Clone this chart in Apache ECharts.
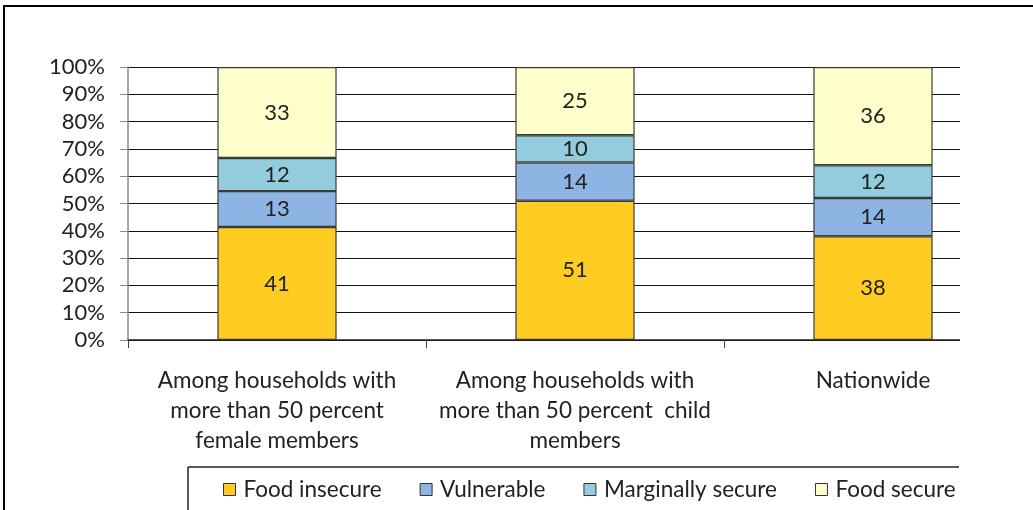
<!DOCTYPE html>
<html><head><meta charset="utf-8">
<script src="https://cdn.jsdelivr.net/npm/echarts@6/dist/echarts.min.js"></script>
<style>html,body{margin:0;padding:0;background:#fff}#c{width:1033px;height:510px}</style>
</head><body><div id="c"></div>
<script>
const categories = [
  'Among households with\nmore than 50 percent\nfemale members',
  'Among households with\nmore than 50 percent  child\nmembers',
  'Nationwide'
];
const seriesNames = ['Food insecure', 'Vulnerable', 'Marginally secure', 'Food secure'];
const foodInsecure = [41, 51, 38];
const vulnerable = [13, 14, 14];
const marginallySecure = [12, 10, 12];
const foodSecure = [33, 25, 36];
const yTicks = ['0%','10%','20%','30%','40%','50%','60%','70%','80%','90%','100%'];
const colors = ['#FFCC22', '#8EB4E3', '#93CDDD', '#FFFFCC'];

const raw = [foodInsecure, vulnerable, marginallySecure, foodSecure];
const totals = categories.map((_, i) => raw.reduce((s, a) => s + a[i], 0));
const FONT = 'Lato, "Open Sans", sans-serif';

const series = raw.map((arr, k) => ({
  name: seriesNames[k],
  type: 'bar',
  stack: 'all',
  barWidth: '40%',
  data: arr.map((v, i) => ({ value: v / totals[i] * 100, raw: v })),
  itemStyle: { color: colors[k], borderColor: '#3a3a3a', borderWidth: 1.2 },
  label: {
    show: true, position: 'inside', color: '#222', fontSize: 22, fontFamily: FONT,
    formatter: p => String(p.data.raw)
  },
  emphasis: { disabled: true }
}));

const chart = echarts.init(document.getElementById('c'));
chart.setOption({
  animation: false,
  backgroundColor: '#fff',
  grid: { left: 128, top: 67, width: 894, height: 273 },
  xAxis: {
    type: 'category', data: categories,
    axisLine: { lineStyle: { color: '#222', width: 1.5 } },
    axisTick: { show: true, length: 8, lineStyle: { color: '#444' } },
    axisLabel: { color: '#222', fontSize: 22.5, fontFamily: FONT, lineHeight: 30, margin: 26, interval: 0 }
  },
  yAxis: {
    type: 'value', min: 0, max: 100, interval: 10,
    axisLine: { show: true, lineStyle: { color: '#888', width: 1.5 } },
    axisTick: { show: true, length: 8, lineStyle: { color: '#888' } },
    axisLabel: { color: '#222', fontSize: 22, fontFamily: FONT, margin: 23,
      formatter: v => yTicks[Math.round(v / 10)] },
    splitLine: { lineStyle: { color: '#111', width: 1.2 } }
  },
  legend: {
    data: seriesNames, left: 218, top: 473, itemWidth: 12, itemHeight: 12, itemGap: 38,
    icon: 'rect',
    itemStyle: { borderColor: '#333', borderWidth: 1 },
    textStyle: { color: '#222', fontSize: 22.5, fontFamily: FONT, padding: [0, 0, 0, 3] }
  },
  graphic: [
    { type: 'rect', left: 960, top: 55, shape: { width: 80, height: 300 }, style: { fill: '#fff' }, z: 100 },
    { type: 'rect', shape: { x: 4, y: 6, width: 1100, height: 600 }, style: { fill: 'none', stroke: '#000', lineWidth: 2 }, z: 101 },
    { type: 'line', shape: { x1: 188, y1: 467, x2: 959, y2: 467 }, style: { stroke: '#222', lineWidth: 1.5 }, z: 101 },
    { type: 'line', shape: { x1: 188, y1: 467, x2: 188, y2: 512 }, style: { stroke: '#222', lineWidth: 1.5 }, z: 101 }
  ],
  series
});
</script></body></html>
